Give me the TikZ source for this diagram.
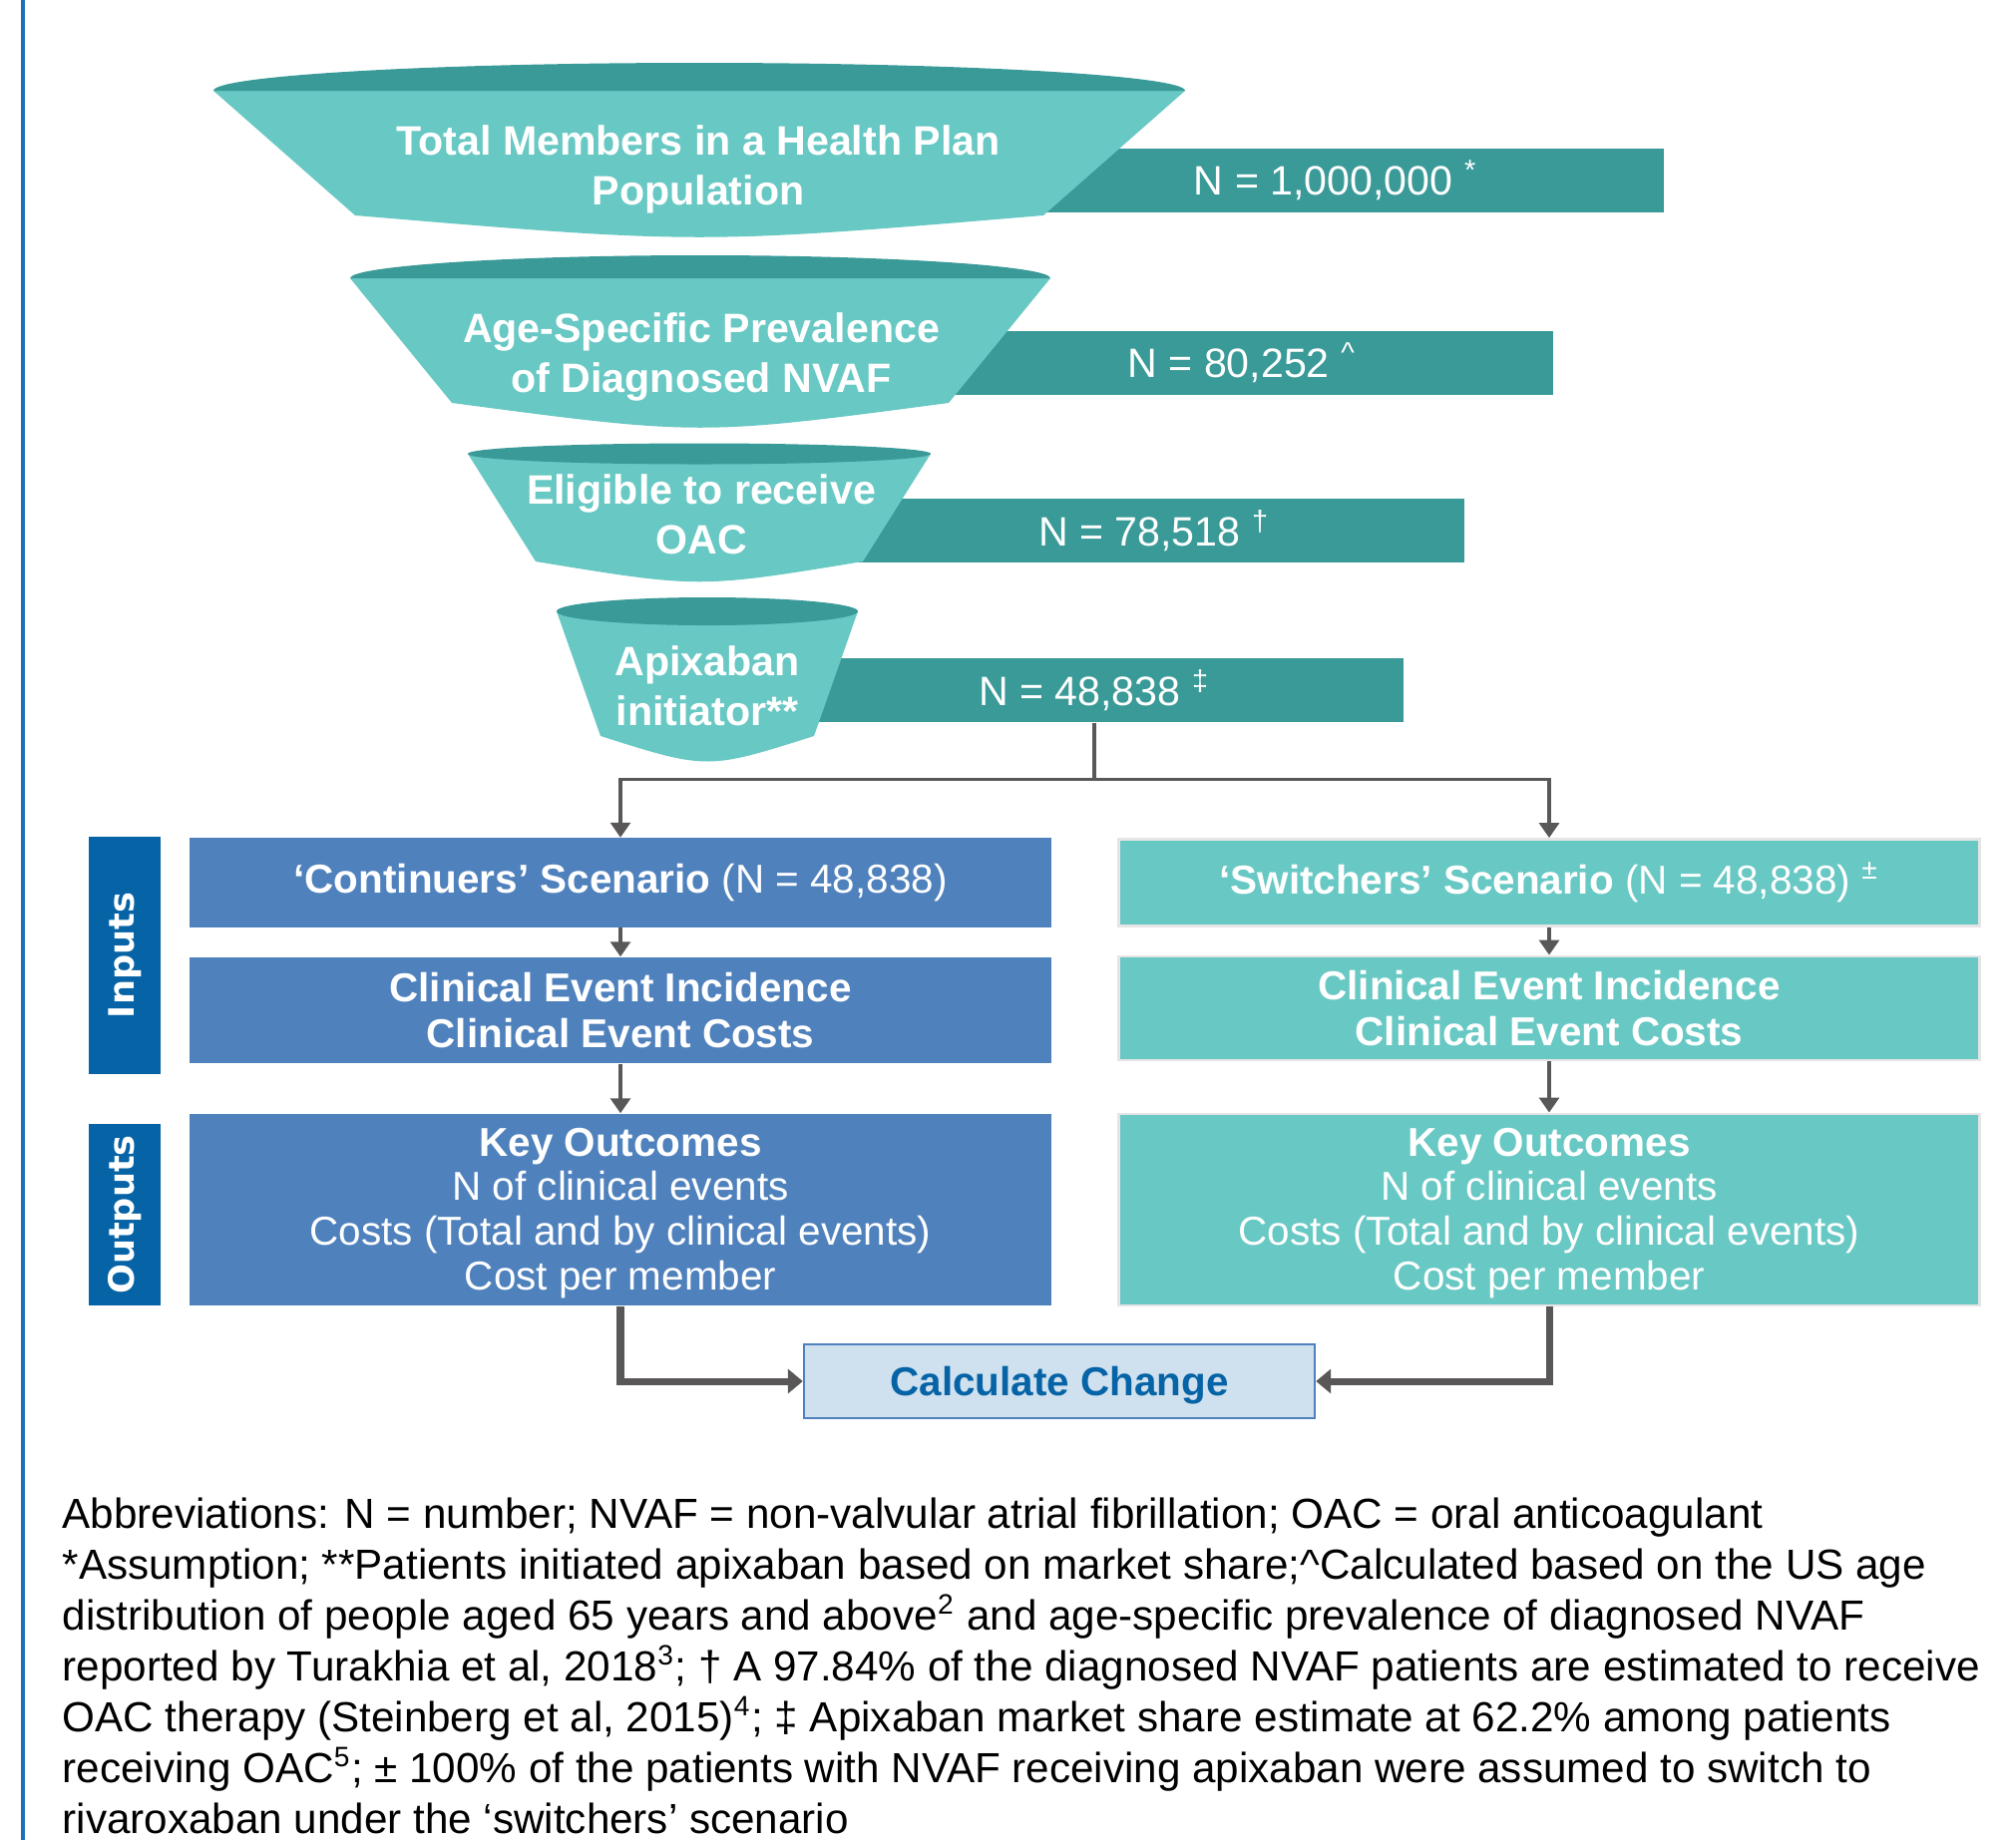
\documentclass[tikz,border=0pt]{standalone}
\usepackage{fontspec}
\setmainfont{Liberation Sans}
\newfontfamily\sidefont{DejaVu Sans}
\usepackage{tikz}
\usetikzlibrary{arrows.meta,positioning}
\definecolor{tealdark}{HTML}{3A9A98}
\definecolor{teallight}{HTML}{68C8C4}
\definecolor{blue2}{HTML}{4F81BD}
\definecolor{navy2}{HTML}{0563A6}
\definecolor{grey2}{HTML}{595757}
\definecolor{calcfill}{HTML}{CFE0EE}
\definecolor{edge2}{HTML}{1F6FB8}

\begin{document}
\begin{tikzpicture}[
    x=0.01cm, y=-0.01cm,
    every node/.style={inner sep=0pt, text=white, align=center},
    txt/.style={font=\fontsize{11.5}{13.3}\selectfont},
    outtxt/.style={font=\fontsize{11.5}{12.7}\selectfont, text depth=0.02cm},
    countbox/.style={fill=tealdark, minimum height=0.64cm,
                     font=\fontsize{11.7}{14}\selectfont},
    funneltext/.style={font=\bfseries\fontsize{11.7}{14.2}\selectfont},
    contbox/.style={fill=blue2, minimum width=8.64cm, txt},
    switchbox/.style={fill=teallight, draw=black!10, line width=0.8pt,
                      minimum width=8.62cm, txt},
    sidelabel/.style={fill=navy2, rotate=90, minimum height=0.71cm,
                      font=\sidefont\bfseries\fontsize{10}{12}\selectfont},
    calcbox/.style={fill=calcfill, draw=blue2, line width=0.6pt, text=navy2,
                    minimum width=5.12cm, minimum height=0.74cm, text depth=0pt,
                    font=\bfseries\fontsize{11.5}{14}\selectfont},
    conn/.style={draw=grey2, line width=0.9pt},
    flow/.style={draw=grey2, line width=2pt},
    tip/.style={-{Triangle[width=0.2cm,length=0.15cm]}},
    bigtip/.style={-{Triangle[width=0.24cm,length=0.15cm]}},
  ]
  \useasboundingbox (0,0) rectangle (2021,1845);
  \draw[edge2, line width=1pt] (23,0) -- (23,1845);

  % counts, partly hidden behind the funnels
  \node[countbox, minimum width=6.58cm] (n1) at (1339,181) {N = 1,000,000 \textsuperscript{*}};
  \node[countbox, minimum width=6.24cm] (n2) at (1245,364) {N = 80,252 \textsuperscript{\textasciicircum}};
  \node[countbox, minimum width=6.22cm] (n3) at (1157,532) {N = 78,518 \textsuperscript{†}};
  \node[countbox, minimum width=6.20cm] (n4) at (1097,692) {N = 48,838 \textsuperscript{‡}};

  % funnels
  \fill[teallight] (214,91) -- (356,216) .. controls (701,245) .. (1046,216) -- (1188,91) -- cycle;
  \fill[tealdark] (214,91) .. controls (214,76) and (432,63) .. (701,63)
                          .. controls (970,63) and (1188,76) .. (1188,91) -- cycle;
  \fill[teallight] (351,279) -- (453,404) .. controls (702,437) .. (951,404) -- (1053,279) -- cycle;
  \fill[tealdark] (351,279) .. controls (351,267) and (508,256) .. (702,256)
                          .. controls (896,256) and (1053,267) .. (1053,279) -- cycle;
  \fill[teallight] (469,455) -- (537,563) .. controls (701,590) .. (865,563) -- (933,455) -- cycle;
  \fill[tealdark] (701,455) ellipse [x radius=2.32cm, y radius=0.105cm];
  \fill[teallight] (558,613) -- (602,738) .. controls (709,772) .. (816,738) -- (860,613) -- cycle;
  \fill[tealdark] (709,613) ellipse [x radius=1.51cm, y radius=0.14cm];

  \node[funneltext] (f1) at (700,170) {Total Members in a Health Plan\\Population};
  \node[funneltext] (f2) at (703,358) {Age-Specific Prevalence\\of Diagnosed NVAF};
  \node[funneltext] (f3) at (703,516) {Eligible to receive\\OAC};
  \node[funneltext] (f4) at (709,688) {Apixaban\\initiator**};

  % two scenarios
  \node[contbox, minimum height=0.89cm] (contA) at (622,885) {\textbf{‘Continuers’ Scenario} (N = 48,838)};
  \node[contbox, minimum height=1.06cm] (contB) at (622,1013) {\textbf{Clinical Event Incidence}\\\textbf{Clinical Event Costs}};
  \node[contbox, outtxt, minimum height=1.92cm] (contC) at (622,1213) {\textbf{Key Outcomes}\\N of clinical events\\Costs (Total and by clinical events)\\Cost per member};

  \node[switchbox, minimum height=0.87cm] (swA) at (1553,885) {\textbf{‘Switchers’ Scenario} (N = 48,838) \textsuperscript{±}};
  \node[switchbox, minimum height=1.04cm] (swB) at (1553,1011) {\textbf{Clinical Event Incidence}\\\textbf{Clinical Event Costs}};
  \node[switchbox, outtxt, minimum height=1.92cm] (swC) at (1553,1213) {\textbf{Key Outcomes}\\N of clinical events\\Costs (Total and by clinical events)\\Cost per member};

  \node[sidelabel, minimum width=2.37cm] (inputs) at (125,958) {Inputs};
  \node[sidelabel, minimum width=1.82cm] (outputs) at (125,1218) {Outputs};

  \node[calcbox] (calc) at (1062,1385) {Calculate Change};

  % connectors
  \path (n4.south) ++(0,57) coordinate (split);
  \draw[conn] (n4.south) -- (split);
  \draw[conn, tip] (split) -| (contA.north);
  \draw[conn, tip] (split) -| (swA.north);
  \draw[conn, tip] (contA) -- (contB);
  \draw[conn, tip] (contB) -- (contC);
  \draw[conn, tip] (swA) -- (swB);
  \draw[conn, tip] (swB) -- (swC);
  \draw[flow, bigtip] (contC.south) |- (calc.west);
  \draw[flow, bigtip] (swC.south) |- (calc.east);

  \node[anchor=north west, text=black, align=left, font=\fontsize{12}{14.5}\selectfont] (notes) at (62,1501)
    {Abbreviations: N = number; NVAF = non-valvular atrial fibrillation; OAC = oral anticoagulant\\
     *Assumption; **Patients initiated apixaban based on market share;\textasciicircum Calculated based on the US age\\
     distribution of people aged 65 years and above\textsuperscript{2} and age-specific prevalence of diagnosed NVAF\\
     reported by Turakhia et al, 2018\textsuperscript{3}; † A 97.84\% of the diagnosed NVAF patients are estimated to receive\\
     OAC therapy (Steinberg et al, 2015)\textsuperscript{4}; ‡ Apixaban market share estimate at 62.2\% among patients\\
     receiving OAC\textsuperscript{5}; ± 100\% of the patients with NVAF receiving apixaban were assumed to switch to\\
     rivaroxaban under the ‘switchers’ scenario};
\end{tikzpicture}
\end{document}
